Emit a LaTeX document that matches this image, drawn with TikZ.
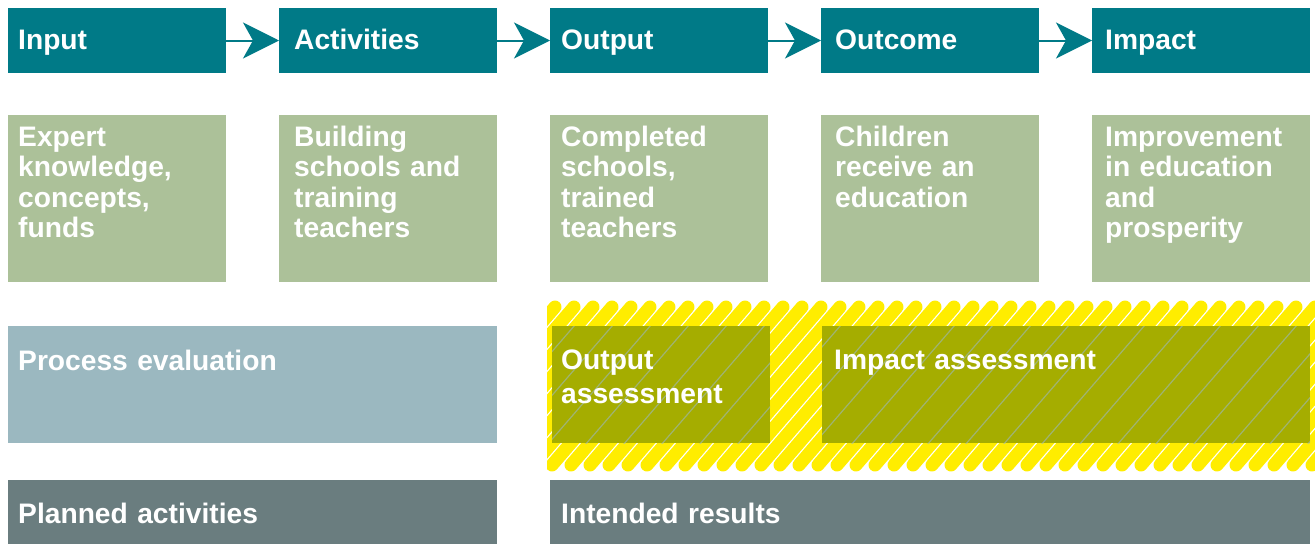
\documentclass[tikz,border=0pt]{standalone}
\usepackage{fontspec}
\setmainfont{Liberation Sans}
\usetikzlibrary{positioning,arrows.meta}
\definecolor{headteal}{HTML}{007A87}
\definecolor{bodygreen}{HTML}{ACC199}
\definecolor{evalblue}{HTML}{9BB8C0}
\definecolor{assessolive}{HTML}{A5AD00}
\definecolor{markyellow}{HTML}{FFED00}
\definecolor{resultgray}{HTML}{6A7D7F}
\tikzset{
  box/.style={inner sep=0pt, outer sep=0pt, minimum width=218pt},
  head box/.style={box, fill=headteal, minimum height=65pt},
  body box/.style={box, fill=bodygreen, minimum height=167pt},
  eval box/.style={box, fill=evalblue, minimum height=117pt},
  assess box/.style={box, fill=assessolive, minimum height=117pt},
  result box/.style={box, fill=resultgray, minimum height=64pt},
  box text/.style={inner sep=0pt, text=white, font=\bfseries\fontsize{28.2}{30.5}\selectfont, align=left, text width=212pt, anchor=base west},
  flow arrow/.style={draw=headteal, line width=2pt, -{Stealth[length=36pt,width=36pt,inset=10pt]}},
  hatch/.style={draw=markyellow, line width=13pt, line cap=round},
  streak/.style={draw=evalblue, line width=1.2pt, opacity=0.6},
}
\begin{document}
\begin{tikzpicture}[x=1pt,y=-1pt]
\useasboundingbox (0,0) rectangle (1315,544);
% the chain
\node[head box, anchor=north west] (input) at (8,8) {};
\node[head box, right=53pt of input] (activities) {};
\node[head box, right=53pt of activities] (output) {};
\node[head box, right=53pt of output] (outcome) {};
\node[head box, right=53pt of outcome] (impact) {};
\node[body box, below=42pt of input] (inputB) {};
\node[body box, below=42pt of activities] (activitiesB) {};
\node[body box, below=42pt of output] (outputB) {};
\node[body box, below=42pt of outcome] (outcomeB) {};
\node[body box, below=42pt of impact] (impactB) {};
% evaluation row
\node[eval box, minimum width=489pt, below=44pt of inputB.south west, anchor=north west] (process) {};
\begin{scope}
\clip (547,290) rectangle (1315,480);
\foreach \x in {400,419,...,1330}
  \draw[hatch] (\x,465) -- ++(136,-158);
\end{scope}
\node[assess box, anchor=north west] (outputA) at (552,326) {};
\node[assess box, minimum width=488pt, anchor=north west] (impactA) at (822,326) {};
\foreach \b in {outputA,impactA}{
  \begin{scope}
  \clip (\b.north west) rectangle (\b.south east);
  \foreach \x in {420,458,...,1330}
    \draw[streak] (\x,460) -- ++(130,-150);
  \end{scope}
}
% bottom row
\node[result box, minimum width=489pt, below=37pt of process.south west, anchor=north west] (planned) {};
\node[result box, minimum width=760pt, anchor=north west] (intended) at (550,480) {};
% arrows
\draw[flow arrow] (input) -- (activities);
\draw[flow arrow] (activities) -- (output);
\draw[flow arrow] (output) -- (outcome);
\draw[flow arrow] (outcome) -- (impact);
% texts
\node[box text] (inputL) at ([xshift=10pt,yshift=-41pt]input.north west) {Input};
\node[box text] (activitiesL) at ([xshift=15pt,yshift=-41pt]activities.north west) {Activities};
\node[box text] (outputL) at ([xshift=11pt,yshift=-41pt]output.north west) {Output};
\node[box text] (outcomeL) at ([xshift=14pt,yshift=-41pt]outcome.north west) {Outcome};
\node[box text] (impactL) at ([xshift=13pt,yshift=-41pt]impact.north west) {Impact};
\node[box text] (inputBL) at ([xshift=10pt,yshift=-31pt]inputB.north west) {Expert\\knowledge,\\concepts,\\funds};
\node[box text] (activitiesBL) at ([xshift=15pt,yshift=-31pt]activitiesB.north west) {Building\\schools and\\training\\teachers};
\node[box text] (outputBL) at ([xshift=11pt,yshift=-31pt]outputB.north west) {Completed\\schools,\\trained\\teachers};
\node[box text] (outcomeBL) at ([xshift=14pt,yshift=-31pt]outcomeB.north west) {Children\\receive an\\education};
\node[box text] (impactBL) at ([xshift=13pt,yshift=-31pt]impactB.north west) {Improvement\\in education\\and\\prosperity};
\node[box text, text width=400pt] (processL) at ([xshift=10pt,yshift=-44pt]process.north west) {Process evaluation};
\node[box text, font=\bfseries\fontsize{28.2}{34}\selectfont] (outputAL) at ([xshift=9pt,yshift=-43pt]outputA.north west) {Output\\assessment};
\node[box text, text width=400pt] (impactAL) at ([xshift=12pt,yshift=-43pt]impactA.north west) {Impact assessment};
\node[box text, text width=400pt] (plannedL) at ([xshift=10pt,yshift=-43pt]planned.north west) {Planned activities};
\node[box text, text width=400pt] (intendedL) at ([xshift=11pt,yshift=-43pt]intended.north west) {Intended results};
\end{tikzpicture}
\end{document}
